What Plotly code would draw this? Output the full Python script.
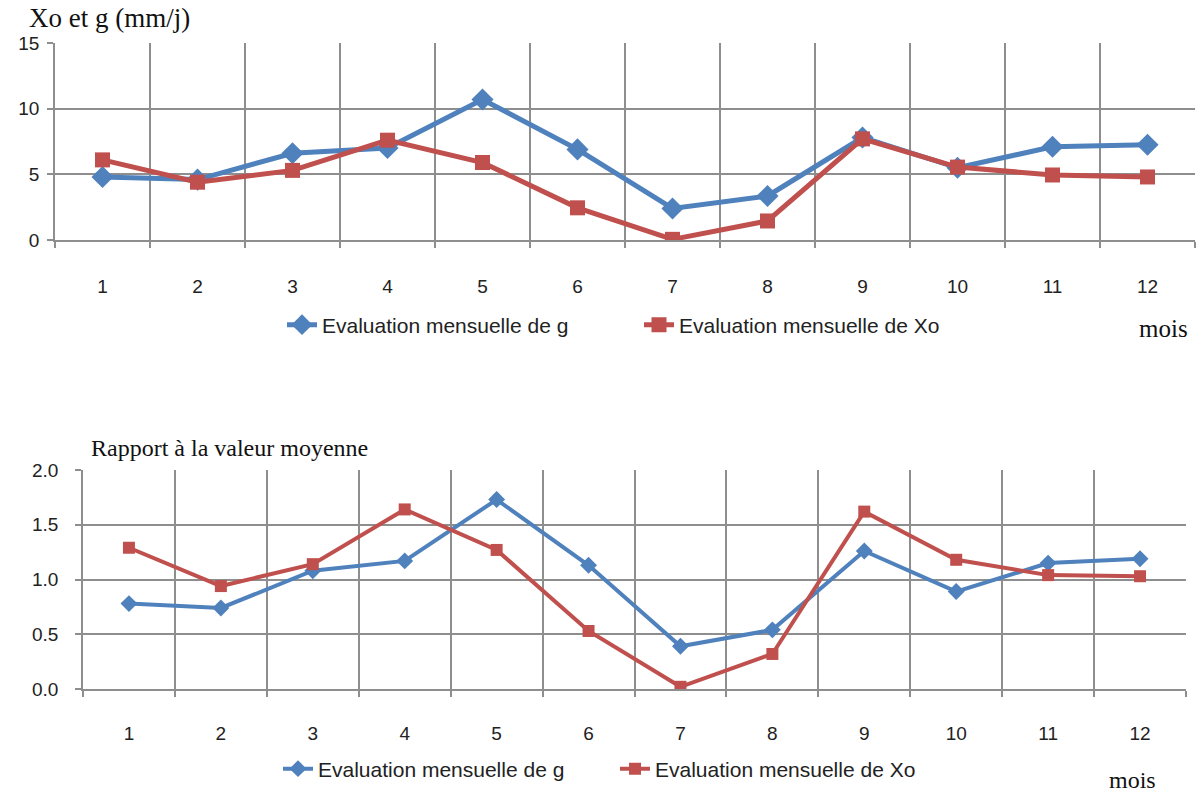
import plotly.graph_objects as go

# Months and monthly values
mois = list(range(1, 13))
g_mm = [4.8, 4.6, 6.6, 7.0, 10.7, 6.9, 2.4, 3.35, 7.8, 5.5, 7.1, 7.25]
xo_mm = [6.1, 4.4, 5.3, 7.6, 5.9, 2.45, 0.05, 1.45, 7.7, 5.55, 4.95, 4.8]
g_ratio = [0.78, 0.74, 1.08, 1.17, 1.73, 1.13, 0.39, 0.54, 1.26, 0.89, 1.15, 1.19]
xo_ratio = [1.29, 0.94, 1.14, 1.64, 1.27, 0.53, 0.02, 0.32, 1.62, 1.18, 1.04, 1.03]

name_g = "Evaluation mensuelle de g"
name_xo = "Evaluation mensuelle de Xo"

BLUE = "#4F81BD"
RED = "#C0504D"
GRID = "#8E8E8E"
W, H = 1204, 798

fig = go.Figure()

fig.add_trace(go.Scatter(x=mois, y=g_mm, name=name_g, mode="lines+markers",
                         line=dict(color=BLUE, width=5),
                         marker=dict(symbol="diamond", size=17, color=BLUE),
                         xaxis="x", yaxis="y", legend="legend"))
fig.add_trace(go.Scatter(x=mois, y=xo_mm, name=name_xo, mode="lines+markers",
                         line=dict(color=RED, width=5),
                         marker=dict(symbol="square", size=15, color=RED),
                         xaxis="x", yaxis="y", legend="legend"))
fig.add_trace(go.Scatter(x=mois, y=g_ratio, name=name_g, mode="lines+markers",
                         line=dict(color=BLUE, width=4),
                         marker=dict(symbol="diamond", size=13, color=BLUE),
                         xaxis="x2", yaxis="y2", legend="legend2"))
fig.add_trace(go.Scatter(x=mois, y=xo_ratio, name=name_xo, mode="lines+markers",
                         line=dict(color=RED, width=4),
                         marker=dict(symbol="square", size=12, color=RED),
                         xaxis="x2", yaxis="y2", legend="legend2"))

tick_font = dict(family="Liberation Sans, Arial, sans-serif", size=19, color="#222")
boundaries = [m + 0.5 for m in range(0, 13)]


def xaxis_cfg(domain, anchor, standoff):
    return dict(domain=domain, anchor=anchor, range=[0.5, 12.5], automargin=False,
                tickvals=mois, ticktext=[str(m) for m in mois],
                showgrid=False, ticks="", showline=True, linecolor=GRID, linewidth=1.5,
                tickfont=tick_font, ticklabelstandoff=standoff, zeroline=False,
                minor=dict(tickvals=boundaries, showgrid=True, gridcolor=GRID,
                           gridwidth=1.5, ticks="outside", ticklen=6,
                           tickcolor=GRID, tickwidth=1.5),
                fixedrange=True)


def yaxis_cfg(domain, anchor, rng, dtick, fmt, standoff):
    return dict(domain=domain, anchor=anchor, range=rng, dtick=dtick, tickformat=fmt,
                automargin=False,
                showgrid=True, gridcolor=GRID, gridwidth=1.5, zeroline=False,
                showline=True, linecolor=GRID, linewidth=1.5,
                ticks="outside", ticklen=6, tickcolor=GRID, tickwidth=1.5,
                tickfont=tick_font, ticklabelstandoff=standoff, fixedrange=True)


px_x = lambda p: p / W
px_y = lambda p: 1 - p / H

legend_font = dict(family="Liberation Sans, Arial, sans-serif", size=21, color="#222")

fig.update_layout(
    width=W, height=H, autosize=False,
    margin=dict(l=0, r=0, t=0, b=0, autoexpand=False),
    paper_bgcolor="white", plot_bgcolor="white",
    showlegend=True,
    xaxis=xaxis_cfg([px_x(55), px_x(1195)], "y", 28),
    yaxis=yaxis_cfg([px_y(240), px_y(43)], "x", [0, 15], 5, "d", 4),
    xaxis2=xaxis_cfg([px_x(83), px_x(1186)], "y2", 26),
    yaxis2=yaxis_cfg([px_y(689), px_y(470)], "x2", [0, 2], 0.5, ".1f", 13),
    legend=dict(orientation="h", x=px_x(282), y=px_y(325), xanchor="left", yanchor="middle",
                font=legend_font, entrywidth=312, bgcolor="rgba(0,0,0,0)"),
    legend2=dict(orientation="h", x=px_x(278), y=px_y(769), xanchor="left", yanchor="middle",
                 font=legend_font, entrywidth=292, bgcolor="rgba(0,0,0,0)"),
)

serif = "Liberation Serif, Times New Roman, serif"
fig.add_annotation(text="Xo et g (mm/j)", xref="paper", yref="paper",
                   x=px_x(27), y=px_y(18), xanchor="left", yanchor="middle",
                   showarrow=False, font=dict(family=serif, size=27, color="#111"))
fig.add_annotation(text="Rapport à la valeur moyenne", xref="paper", yref="paper",
                   x=px_x(89), y=px_y(448), xanchor="left", yanchor="middle",
                   showarrow=False, font=dict(family=serif, size=24, color="#111"))
fig.add_annotation(text="mois", xref="paper", yref="paper",
                   x=px_x(1190), y=px_y(328), xanchor="right", yanchor="middle",
                   showarrow=False, font=dict(family=serif, size=25, color="#111"))
fig.add_annotation(text="mois", xref="paper", yref="paper",
                   x=px_x(1158), y=px_y(780), xanchor="right", yanchor="middle",
                   showarrow=False, font=dict(family=serif, size=24, color="#111"))

fig.write_html("out.html")
